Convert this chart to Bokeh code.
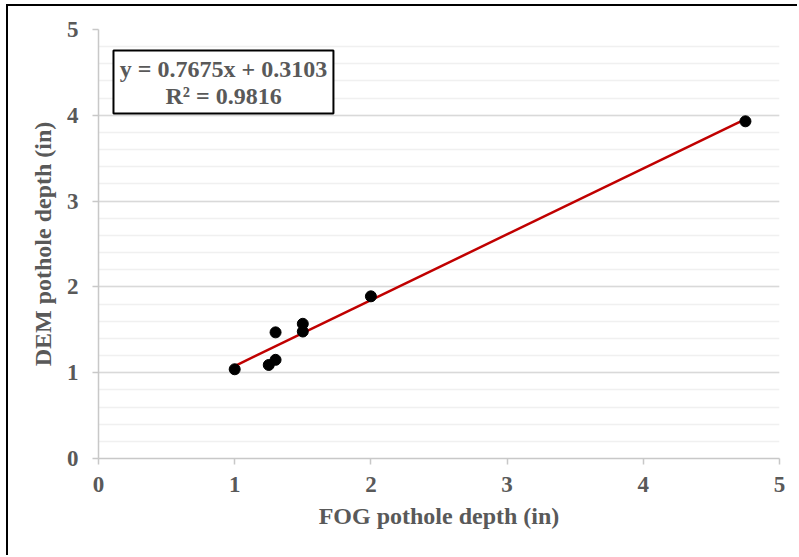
from bokeh.plotting import figure
from bokeh.models import Range1d, FixedTicker, BoxAnnotation, Label
from bokeh.embed import file_html
from bokeh.resources import INLINE

# ---- data ----
fog_depth = [1.0, 1.25, 1.3, 1.3, 1.5, 1.5, 2.0, 4.75]
dem_depth = [1.04, 1.09, 1.15, 1.47, 1.57, 1.48, 1.89, 3.93]
trend_slope = 0.7675
trend_intercept = 0.3103
trend_r2 = 0.9816
x_ticks = [0, 1, 2, 3, 4, 5]
y_ticks = [0, 1, 2, 3, 4, 5]
y_minor_ticks = [i / 5 for i in range(26)]

TEXT = "#595959"
FONT = "Liberation Serif"

p = figure(width=791, height=551, output_backend="svg", toolbar_location=None,
           x_range=Range1d(0, 5), y_range=Range1d(0, 5),
           min_border_left=90, min_border_right=20, min_border_top=23, min_border_bottom=99)
p.styles = {"margin-left": "6px", "margin-top": "4px",
            "border-top": "2px solid black", "border-left": "2px solid black"}
p.outline_line_color = None
p.background_fill_color = "white"
p.border_fill_color = "white"

# grids
p.xgrid.grid_line_color = None
p.ygrid.ticker = FixedTicker(ticks=y_ticks, minor_ticks=y_minor_ticks)
p.ygrid.grid_line_color = "#d9d9d9"
p.ygrid.grid_line_width = 1.5
p.ygrid.minor_grid_line_color = "#f0f0f0"
p.ygrid.minor_grid_line_width = 1.5

for ax, ticks in ((p.xaxis, x_ticks), (p.yaxis, y_ticks)):
    ax.ticker = FixedTicker(ticks=ticks)
    ax.axis_line_color = "#c8c8c8"
    ax.axis_line_width = 1.5
    ax.major_tick_line_color = "#c8c8c8"
    ax.major_tick_line_width = 1.5
    ax.major_tick_out = 6
    ax.major_tick_in = 0
    ax.minor_tick_line_color = None
    ax.major_label_text_font = FONT
    ax.major_label_text_font_style = "bold"
    ax.major_label_text_font_size = "23px"
    ax.major_label_text_color = TEXT
    ax.axis_label_text_font = FONT
    ax.axis_label_text_font_style = "bold"
    ax.axis_label_text_font_size = "24px"
    ax.axis_label_text_color = TEXT

p.xaxis.axis_label = "FOG pothole depth (in)"
p.yaxis.axis_label = "DEM pothole depth (in)"
p.xaxis.major_label_standoff = 12
p.xaxis.axis_label_standoff = 8
p.yaxis.major_label_standoff = 14
p.yaxis.axis_label_standoff = 8

# trendline
x0, x1 = min(fog_depth), max(fog_depth)
p.line([x0, x1], [trend_slope * x0 + trend_intercept, trend_slope * x1 + trend_intercept],
       line_color="#c00000", line_width=2.5)

# points
p.scatter(fog_depth, dem_depth, size=11, fill_color="black", line_color="black")

# equation box
p.add_layout(BoxAnnotation(left=0.11, right=1.725, bottom=4.02, top=4.755,
                           fill_color="white", fill_alpha=1.0,
                           line_color="black", line_alpha=1.0, line_width=2))
p.add_layout(Label(x=0.918, y=4.535, text=f"y = {trend_slope}x + {trend_intercept}",
                   text_align="center", text_baseline="middle",
                   text_font=FONT, text_font_style="bold", text_font_size="24px",
                   text_color=TEXT))
p.add_layout(Label(x=0.918, y=4.22, text=f"R² = {trend_r2}",
                   text_align="center", text_baseline="middle",
                   text_font=FONT, text_font_style="bold", text_font_size="24px",
                   text_color=TEXT))

open("out.html", "w").write(file_html(p, INLINE))
